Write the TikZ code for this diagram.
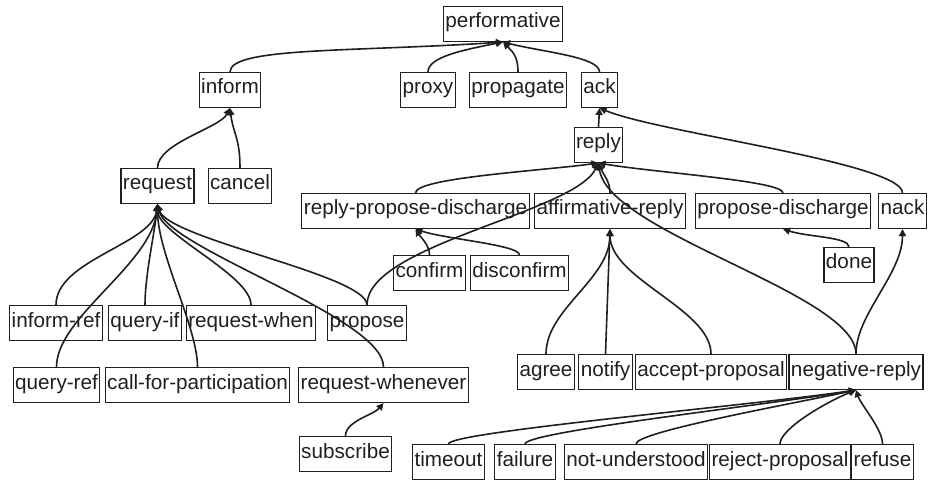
\documentclass[tikz,border=0pt]{standalone}
\usepackage{fontspec}
\setmainfont{Liberation Sans}
\usetikzlibrary{arrows.meta}
\definecolor{ink}{gray}{0.12}

\begin{document}
\begin{tikzpicture}[x=1pt,y=1pt,
    act/.style={draw=ink,line width=1.1pt,text=ink,inner xsep=2pt,inner ysep=0pt,
      minimum height=35pt,text height=0.9em,text depth=0.1em,
      font=\fontsize{20.7}{24}\selectfont},
    isa/.style={draw=ink,line width=1.6pt,-{Triangle[length=7pt,width=7pt]}}]

        \useasboundingbox (0,0) rectangle (929,-481);

        \node[act] (perf) at (503,-24) {performative};
        \node[act] (inform) at (230,-90) {inform};    \node[act] (proxy) at (428,-90) {proxy};
        \node[act] (propagate) at (518,-90) {propagate}; \node[act] (ack) at (599.5,-90) {ack};
        \node[act] (reply) at (598.5,-145) {reply};
        \node[act] (request) at (157.5,-186) {request}; \node[act] (cancel) at (240,-186) {cancel};
        \node[act] (rpd) at (415.5,-211) {reply-propose-discharge};
        \node[act] (affirm) at (610,-211) {affirmative-reply};
        \node[act] (pdis) at (783,-211) {propose-discharge}; \node[act] (nack) at (902.5,-211) {nack};
        \node[act] (confirm) at (429.5,-273) {confirm}; \node[act] (disconfirm) at (519.5,-273) {disconfirm};
        \node[act] (done) at (849,-265) {done};
        \node[act] (informref) at (56,-323) {inform-ref}; \node[act] (queryif) at (145,-323) {query-if};
        \node[act] (reqwhen) at (251,-323) {request-when}; \node[act] (propose) at (367,-323) {propose};
        \node[act] (queryref) at (56.5,-385) {query-ref};
        \node[act] (cfp) at (197.5,-385) {call-for-participation};
        \node[act] (reqwhenever) at (383.5,-385) {request-whenever};
        \node[act] (subscribe) at (345.5,-454) {subscribe};
        \node[act] (agree) at (546,-372) {agree}; \node[act] (notify) at (605.5,-372) {notify};
        \node[act] (accept) at (711,-372) {accept-proposal}; \node[act] (negreply) at (856,-372) {negative-reply};
        \node[act] (timeout) at (448.5,-462) {timeout}; \node[act] (failure) at (525,-462) {failure};
        \node[act] (notund) at (636,-462) {not-understood};
        \node[act] (rejprop) at (780,-462) {reject-proposal}; \node[act] (refuse) at (882.5,-462) {refuse};

        \draw[isa] (inform.north) .. controls +(0,25) and +(-150,-10) .. (perf.south);
        \draw[isa] (proxy.north) .. controls +(0,15) and +(-40,-8) .. (perf.south);
        \draw[isa] (propagate.north) .. controls +(0,15) and +(10,-10) .. (perf.south);
        \draw[isa] (ack.north) .. controls +(0,15) and +(40,-10) .. (perf.south);

        \draw[isa] (reply.north) -- (ack.south);
        \draw[isa] (nack.north) .. controls +(0,30) and +(60,-25) .. (ack.south);

        \draw[isa] (rpd.north) .. controls +(0,15) and +(-60,-8) .. (reply.south);
        \draw[isa] (affirm.north) .. controls +(0,12) and +(5,-12) .. (reply.south);
        \draw[isa] (pdis.north) .. controls +(0,12) and +(60,-10) .. (reply.south);
        \draw[isa] (negreply.north) .. controls +(0,60) and +(10,-70) .. (reply.south);
        \draw[isa] (propose.north) .. controls +(0,60) and +(-25,-50) .. (reply.south);

        \draw[isa] (confirm.north) .. controls +(0,10) and +(5,-8) .. (rpd.south);
        \draw[isa] (disconfirm.north) .. controls +(0,10) and +(30,-10) .. (rpd.south);

        \draw[isa] (request.north) .. controls +(0,25) and +(-10,-20) .. (inform.south);
        \draw[isa] (cancel.north) .. controls +(0,30) and +(3,-25) .. (inform.south);

        \draw[isa] (informref.north) .. controls +(0,45) and +(-5,-40) .. (request.south);
        \draw[isa] (queryref.north) .. controls +(0,50) and +(-5,-60) .. (request.south);
        \draw[isa] (queryif.north) .. controls +(0,30) and +(-3,-30) .. (request.south);
        \draw[isa] (cfp.north) .. controls +(0,40) and +(0,-50) .. (request.south);
        \draw[isa] (reqwhen.north) .. controls +(0,30) and +(0,-30) .. (request.south);
        \draw[isa] (propose.north) .. controls +(0,30) and +(10,-35) .. (request.south);
        \draw[isa] (reqwhenever.north) .. controls +(0,50) and +(10,-45) .. (request.south);

        \draw[isa] (subscribe.north) .. controls +(0,15) and +(-10,-12) .. (reqwhenever.south);
        \draw[isa] (done.north) .. controls +(0,10) and +(25,-8) .. (pdis.south);
        \draw[isa] (negreply.north) .. controls +(0,40) and +(0,-45) .. (nack.south);

        \draw[isa] (agree.north) .. controls +(0,45) and +(0,-50) .. (affirm.south);
        \draw[isa] (notify.north) -- (affirm.south);
        \draw[isa] (accept.north) .. controls +(0,45) and +(0,-50) .. (affirm.south);

        \draw[isa] (timeout.north) .. controls +(0,12) and +(-100,-15) .. (negreply.south);
        \draw[isa] (failure.north) .. controls +(0,12) and +(-90,-15) .. (negreply.south);
        \draw[isa] (notund.north) .. controls +(0,12) and +(-70,-15) .. (negreply.south);
        \draw[isa] (rejprop.north) .. controls +(0,15) and +(-30,-12) .. (negreply.south);
        \draw[isa] (refuse.north) .. controls +(0,15) and +(5,-15) .. (negreply.south);

      \end{tikzpicture}
\end{document}
